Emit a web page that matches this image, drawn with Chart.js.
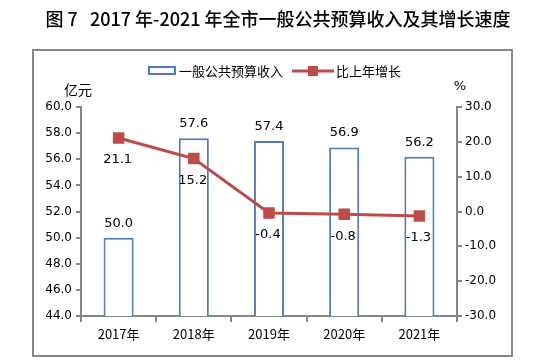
<!DOCTYPE html>
<html>
<head>
<meta charset="utf-8">
<script src="https://cdn.jsdelivr.net/npm/chart.js@4"></script>
<style>
  html, body { margin: 0; padding: 0; background: #fff; }
  #wrap { width: 554px; height: 364px; position: relative; }
</style>
</head>
<body>
<div id="wrap"><canvas id="chart" width="554" height="364"></canvas></div>
<script>
// chart data
const years = ['2017年', '2018年', '2019年', '2020年', '2021年'];
const revenue = [50.0, 57.6, 57.4, 56.9, 56.2];
const growth = [21.1, 15.2, -0.4, -0.8, -1.3];
const revenueLabel = '一般公共预算收入';
const growthLabel = '比上年增长';
const titleText = '图 7   2017 年-2021 年全市一般公共预算收入及其增长速度';

const BLUE = '#4F7DB5';
const RED = '#BE4B48';
const AXIS = '#868686';
const numFont = '"DejaVu Sans", sans-serif';
const cjkFont = '"Noto Sans CJK SC", sans-serif';

// frame, title, units and legend drawn by hand
const decorations = {
  id: 'decorations',
  beforeDraw(chart) {
    const ctx = chart.ctx;
    ctx.save();
    ctx.strokeStyle = AXIS;
    ctx.lineWidth = 2;
    ctx.strokeRect(33, 50, 479, 306);

    ctx.fillStyle = '#000';
    ctx.font = '500 18px ' + cjkFont;
    ctx.textAlign = 'center';
    ctx.textBaseline = 'middle';
    ctx.fillText(titleText, 278, 19);

    ctx.font = '14px ' + cjkFont;
    ctx.fillText('亿元', 78, 90);
    ctx.font = '13px ' + numFont;
    ctx.fillText('%', 460, 87);

    // legend
    ctx.lineWidth = 2;
    ctx.strokeStyle = BLUE;
    ctx.strokeRect(149, 67, 26, 7);
    ctx.font = '13px ' + cjkFont;
    ctx.textAlign = 'left';
    ctx.fillText(revenueLabel, 179, 71);
    ctx.strokeStyle = RED;
    ctx.lineWidth = 3;
    ctx.beginPath();
    ctx.moveTo(292, 71);
    ctx.lineTo(334, 71);
    ctx.stroke();
    ctx.fillStyle = RED;
    ctx.fillRect(308, 66, 10, 10);
    ctx.fillStyle = '#000';
    ctx.fillText(growthLabel, 336, 71);
    ctx.restore();
  },
  afterDatasetsDraw(chart) {
    const ctx = chart.ctx;
    ctx.save();
    ctx.fillStyle = '#000';
    ctx.font = '13px ' + numFont;
    ctx.textAlign = 'center';
    // dataset 0 = line, dataset 1 = bars
    chart.getDatasetMeta(1).data.forEach((el, i) => {
      ctx.textBaseline = 'bottom';
      ctx.fillText(revenue[i].toFixed(1), el.x, el.y - 8);
    });
    chart.getDatasetMeta(0).data.forEach((el, i) => {
      ctx.textBaseline = 'middle';
      ctx.fillText(growth[i].toFixed(1), el.x - 1, el.y + 22);
    });
    ctx.restore();
  }
};

new Chart(document.getElementById('chart'), {
  data: {
    labels: years,
    datasets: [
      {
        type: 'line',
        label: growthLabel,
        data: growth,
        yAxisID: 'y2',
        borderColor: RED,
        backgroundColor: RED,
        borderWidth: 3,
        pointStyle: 'rect',
        pointRadius: 6,
        pointHoverRadius: 6,
        tension: 0,
        order: 0
      },
      {
        type: 'bar',
        label: revenueLabel,
        data: revenue,
        yAxisID: 'y',
        backgroundColor: '#fff',
        borderColor: BLUE,
        borderWidth: 2,
        categoryPercentage: 1,
        barPercentage: 0.4,
        order: 1
      }
    ]
  },
  options: {
    responsive: false,
    animation: false,
    layout: { padding: { top: 107, left: 0, right: 0, bottom: 0 } },
    plugins: {
      legend: { display: false },
      tooltip: { enabled: false }
    },
    scales: {
      x: {
        offset: true,
        grid: { drawOnChartArea: false, offset: true, color: AXIS, lineWidth: 2, tickLength: 6 },
        border: { color: AXIS, width: 2 },
        ticks: { color: '#000', font: { family: cjkFont, size: 13 }, padding: 4 },
        afterFit(s) { s.height = 48; }
      },
      y: {
        position: 'left',
        min: 44,
        max: 60,
        ticks: { stepSize: 2, color: '#000', font: { family: numFont, size: 12 }, padding: 4,
                 callback: v => v.toFixed(1) },
        grid: { drawOnChartArea: false, color: AXIS, lineWidth: 2, tickLength: 5 },
        border: { color: AXIS, width: 2 },
        afterFit(s) { s.width = 81; }
      },
      y2: {
        position: 'right',
        min: -30,
        max: 30,
        ticks: { stepSize: 10, color: '#000', font: { family: numFont, size: 12 }, padding: 3,
                 callback: v => v.toFixed(1) },
        grid: { drawOnChartArea: false, color: AXIS, lineWidth: 2, tickLength: 5 },
        border: { color: AXIS, width: 2 },
        afterFit(s) { s.width = 97; }
      }
    }
  },
  plugins: [decorations]
});
</script>
</body>
</html>
